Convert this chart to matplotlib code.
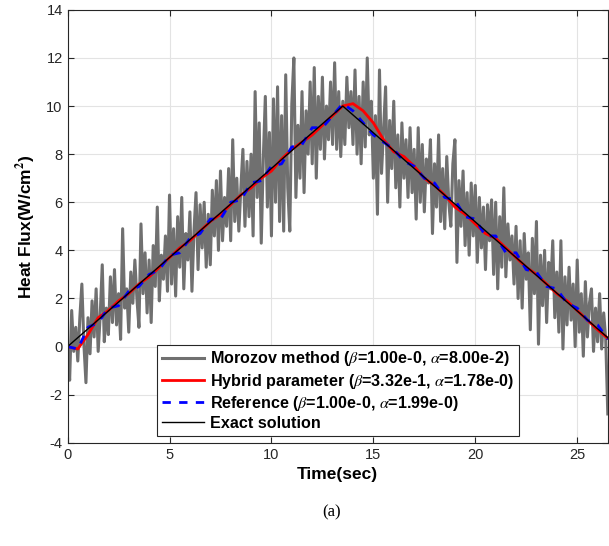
import numpy as np
import matplotlib
matplotlib.use("Agg")
import matplotlib.pyplot as plt

plt.rcParams["font.family"] = ["Liberation Sans", "DejaVu Sans"]
plt.rcParams["mathtext.fontset"] = "stix"
plt.rcParams["axes.unicode_minus"] = False

morozov = [
    0.0, -1.4, 1.5, -0.2, 0.8, -0.6, 1.2, 2.6, 0.1, -1.5,
    1.2, -0.3, 1.9, 0.4, 2.4, -0.2, 1.3, 3.4, 0.2, 1.6,
    0.5, 2.9, 1.0, 3.2, 0.9, 2.2, 0.3, 4.9, 1.6, 2.4,
    0.6, 3.1, 1.8, 3.6, 2.0, 0.8, 5.1, 2.2, 3.9, 1.4,
    3.6, 1.0, 4.2, 2.5, 5.8, 1.9, 3.8, 2.8, 4.6, 2.3,
    6.3, 2.6, 4.9, 2.1, 5.4, 3.3, 6.2, 2.4, 4.7, 3.6,
    5.6, 2.3, 4.8, 6.4, 3.2, 5.9, 4.1, 6.0, 3.3, 5.5,
    3.4, 6.5, 4.6, 6.9, 4.0, 7.3, 4.4, 6.2, 5.0, 7.4,
    4.4, 8.6, 5.2, 7.0, 4.8, 6.6, 8.2, 5.0, 7.7, 5.4,
    8.0, 4.6, 10.6, 6.2, 9.3, 4.3, 7.8, 10.4, 5.8, 8.9,
    4.6, 10.3, 6.0, 10.8, 5.2, 9.6, 4.8, 11.3, 6.6, 4.8,
    10.1, 12.0, 6.2, 9.2, 7.0, 10.6, 6.4, 9.8, 8.0, 11.0,
    7.6, 11.6, 7.0, 10.4, 8.2, 11.2, 7.8, 10.0, 8.6, 11.0,
    8.4, 11.8, 8.2, 10.6, 7.9, 10.2, 8.4, 11.2, 9.1, 10.6,
    8.4, 11.5, 8.0, 10.4, 7.6, 11.0, 8.3, 12.0, 8.8, 10.2,
    7.0, 9.6, 5.5, 11.5, 7.2, 9.0, 10.8, 6.0, 9.4, 7.4,
    10.2, 6.6, 8.8, 5.8, 9.3, 7.0, 8.6, 6.2, 9.1, 6.4,
    8.2, 5.3, 9.1, 6.0, 8.4, 5.6, 7.8, 6.8, 8.6, 4.7,
    7.6, 5.8, 8.8, 5.2, 7.4, 4.9, 7.9, 6.0, 5.0, 7.6,
    8.6, 3.5, 6.9, 5.0, 7.3, 4.2, 6.4, 3.8, 6.8, 4.6,
    6.7, 3.5, 6.2, 4.1, 5.8, 3.2, 5.9, 4.4, 6.1, 3.0,
    6.0, 2.4, 5.4, 3.3, 6.6, 2.9, 5.1, 3.6, 4.6, 2.6,
    5.0, 2.0, 4.4, 1.6, 4.7, 2.8, 3.9, 0.7, 4.5, 2.2,
    5.2, 0.1, 3.8, 1.7, 4.0, 1.0, 3.5, 2.4, 4.4, 1.2,
    3.1, 0.6, 4.4, -0.1, 2.9, 0.9, 3.3, 1.1, 2.6, 0.0,
    3.6, 0.6, 2.2, -0.4, 2.7, 0.4, 1.8, 2.4, -0.2, 1.6,
    0.2, 2.2, -0.1, 1.4, 0.3, -2.8,
]
t_mor = np.linspace(0, 26.5, len(morozov))

# hybrid and reference solutions, every 0.5 s
hybrid = [
    0.0, -0.1, 0.5, 1.2, 1.5, 1.9, 2.2, 2.6, 2.9, 3.3,
    3.7, 4.1, 4.4, 4.8, 5.2, 5.5, 5.9, 6.3, 6.6, 7.0,
    7.3, 7.8, 8.2, 8.5, 8.8, 9.2, 9.6, 10.0, 10.1, 9.8,
    9.3, 8.6, 8.1, 7.9, 7.5, 7.0, 6.7, 6.3, 5.8, 5.5,
    5.1, 4.7, 4.5, 4.1, 3.7, 3.3, 3.0, 2.6, 2.2, 1.9,
    1.5, 1.1, 0.7, 0.35,
]
reference = [
    0.0, -0.1, 0.8, 1.0, 1.6, 1.7, 2.3, 2.5, 3.0, 3.2,
    3.8, 3.9, 4.5, 4.7, 5.3, 5.3, 6.0, 6.1, 6.8, 6.9,
    7.5, 7.6, 8.3, 8.4, 9.1, 9.1, 9.6, 10.1, 9.8, 9.3,
    8.8, 8.5, 8.2, 7.7, 7.5, 7.0, 6.8, 6.2, 6.1, 5.4,
    5.3, 4.6, 4.6, 3.9, 3.9, 3.2, 3.1, 2.5, 2.4, 1.8,
    1.6, 1.1, 0.9, 0.3,
]
t_smooth = np.linspace(0, 26.5, len(hybrid))

# exact triangular heat flux
t_exact = [0.0, 13.5, 26.5]
q_exact = [0.0, 10.0, 0.37]

labels = [
    r"Morozov method ($\beta$=1.00e-0, $\alpha$=8.00e-2)",
    r"Hybrid parameter ($\beta$=3.32e-1, $\alpha$=1.78e-0)",
    r"Reference ($\beta$=1.00e-0, $\alpha$=1.99e-0)",
    "Exact solution",
]

fig = plt.figure(figsize=(6.09, 5.46), dpi=100)
ax = fig.add_axes([0.111, 0.189, 0.887, 0.793])

ax.plot(t_mor, morozov, color="#707070", lw=2.2, label=labels[0])
ax.plot(t_smooth, hybrid, color="#ff0000", lw=2.0, label=labels[1])
ax.plot(t_smooth, reference, color="#0000ff", lw=2.0, ls=(0, (3, 3)), label=labels[2])
ax.plot(t_exact, q_exact, color="black", lw=1.0, label=labels[3])

ax.set_xlim(0, 26.5)
ax.set_ylim(-4, 14)
ax.set_xticks([0, 5, 10, 15, 20, 25])
ax.set_yticks(range(-4, 15, 2))
ax.grid(True, color="#e3e3e3", lw=0.8)
ax.set_axisbelow(True)
ax.tick_params(direction="in", top=True, right=True, labelsize=10.5,
               colors="#262626", length=4)
for s in ax.spines.values():
    s.set_color("#262626")
    s.set_linewidth(0.8)

ax.set_xlabel("Time(sec)", fontsize=12.5, fontweight="bold", labelpad=4)
ax.set_ylabel("Heat Flux(W/cm$^\\mathbf{2}$)", fontsize=12.5, fontweight="bold", labelpad=6)

leg = ax.legend(loc="lower left", bbox_to_anchor=(0.166, 0.016), fancybox=False,
                framealpha=1, edgecolor="#262626", prop={"weight": "bold", "size": 11.6},
                handlelength=2.6, handletextpad=0.4, borderpad=0.3, labelspacing=0.2,
                borderaxespad=0)
leg.get_frame().set_linewidth(0.8)

fig.text(0.545, 0.062, "(a)", ha="center", va="center", fontsize=12,
         family="Liberation Serif")

fig.savefig("out.png", dpi=100)
